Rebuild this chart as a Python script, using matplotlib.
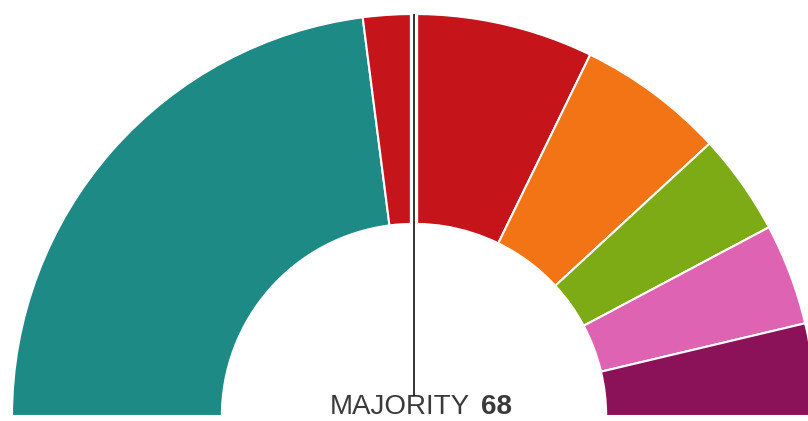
import matplotlib.pyplot as plt

# seats per party (135 seats in total)
seats = [62, 25, 16, 11, 11, 10]
colors = ['#1e8a86', '#c5141a', '#f27415', '#7dab16', '#df63b3', '#8b1158']
majority = 68
total = sum(seats)

fig = plt.figure(figsize=(8.08, 4.21), dpi=100)
ax = fig.add_axes([0, 0, 1, 1])

# hidden lower half so the pie becomes a half ring
vals = seats + [total]
cols = colors + ['none']
wedges, _ = ax.pie(vals, colors=cols, startangle=180, counterclock=False,
                   radius=1.0,
                   wedgeprops=dict(width=0.522, edgecolor='white', linewidth=1.5))
wedges[-1].set_edgecolor('none')

# majority line
ax.plot([0, 0], [0.05, 1.0], color='white', lw=6, solid_capstyle='butt', zorder=3)
ax.plot([0, 0], [0.05, 1.0], color='#222222', lw=1.3, solid_capstyle='butt', zorder=4)

ax.text(0.139, 0.004, 'MAJORITY', ha='right', va='baseline', fontsize=20,
        color='#3a3a3a', family='Liberation Sans')
ax.text(0.166, 0.004, str(majority), ha='left', va='baseline', fontsize=20,
        color='#3a3a3a', fontweight='bold', family='Liberation Sans')

ax.set_xlim(-414 / 402, 394 / 402)
ax.set_ylim(-5 / 402, 416 / 402)
ax.set_aspect('auto')
ax.axis('off')

plt.savefig('out.png', dpi=100)
